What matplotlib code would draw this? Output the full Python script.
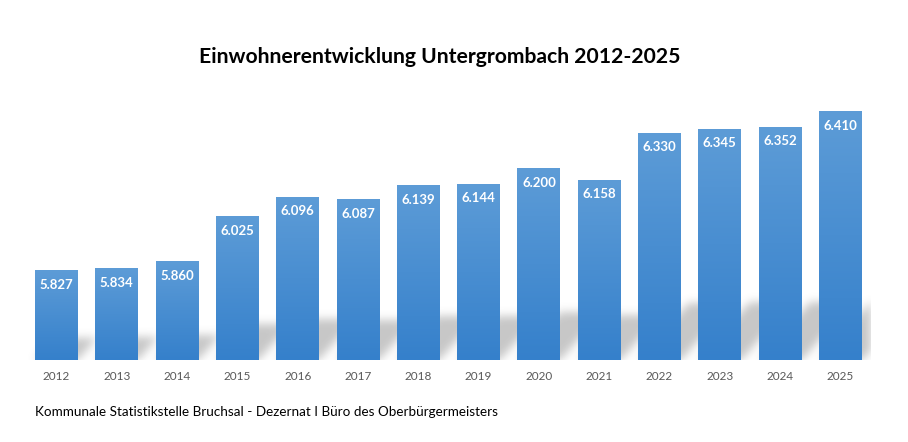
import matplotlib
matplotlib.use("Agg")
import matplotlib.pyplot as plt
import numpy as np

years = ["2012", "2013", "2014", "2015", "2016", "2017", "2018",
         "2019", "2020", "2021", "2022", "2023", "2024", "2025"]
einwohner = [5827, 5834, 5860, 6025, 6096, 6087, 6139,
             6144, 6200, 6158, 6330, 6345, 6352, 6410]
labels = ["5.827", "5.834", "5.860", "6.025", "6.096", "6.087", "6.139",
          "6.144", "6.200", "6.158", "6.330", "6.345", "6.352", "6.410"]

title = "Einwohnerentwicklung Untergrombach 2012-2025"
footer = "Kommunale Statistikstelle Bruchsal - Dezernat I Büro des Oberbürgermeisters"

plt.rcParams['font.family'] = ['Lato', 'DejaVu Sans']

W, H = 908, 442
fig = plt.figure(figsize=(W / 100, H / 100), dpi=100)
ax_left, ax_right = 26.4, 870.6
ax_top, ax_bot = 87, 360
ax = fig.add_axes([ax_left / W, 1 - ax_bot / H, (ax_right - ax_left) / W, (ax_bot - ax_top) / H])
ax.set_xlim(-0.5, len(years) - 0.5)
ymin, ymax = 5500, 6500
ax.set_ylim(ymin, ymax)
ax.patch.set_alpha(0)
for s in ax.spines.values():
    s.set_visible(False)
ax.set_yticks([])
ax.set_xticks(range(len(years)))
ax.set_xticklabels(years, fontsize=8.5, color="#595959")
ax.tick_params(axis="x", length=0, pad=8)

bar_w = 0.713

# soft shadow behind the bars, built on a pixel grid of the axes
nx, ny = int(ax_right - ax_left), int(ax_bot - ax_top)
px_per_x = nx / len(years)
px_per_y = ny / (ymax - ymin)
gx = np.arange(nx) + 0.5
gy = np.arange(ny) + 0.5  # from the base upwards
X, Y = np.meshgrid(gx, gy)
mask = np.zeros((ny, nx))
for i, v in enumerate(einwohner):
    h = (v - ymin) * px_per_y
    sh = 0.25 * h
    sk = 0.22 * h
    x0 = (i + 0.5 - bar_w / 2) * px_per_x
    x1 = (i + 0.5 + bar_w / 2) * px_per_x
    t = Y / sh
    inside = (Y <= sh) & (X >= x0 + sk * t) & (X <= x1 + sk * t)
    mask[inside] = 1.0
sig = 4.5
k = np.exp(-0.5 * (np.arange(-14, 15) / sig) ** 2)
k /= k.sum()
mask = np.apply_along_axis(lambda r: np.convolve(r, k, mode="same"), 1, mask)
mask = np.apply_along_axis(lambda c: np.convolve(c, k, mode="same"), 0, mask)
shadow = np.zeros((ny, nx, 4))
shadow[..., :3] = 0.35
shadow[..., 3] = mask * 0.34
ax.imshow(shadow[::-1], extent=(-0.5, len(years) - 0.5, ymin, ymin + ny / px_per_y),
          aspect="auto", zorder=1, interpolation="bilinear")

# bars with vertical gradient
top_c = np.array([0x5d, 0x9c, 0xd7]) / 255
bot_c = np.array([0x35, 0x80, 0xcb]) / 255
grad = np.linspace(0, 1, 256)[:, None]
grad_img = (top_c * (1 - grad) + bot_c * grad)[:, None, :]
bars = ax.bar(range(len(years)), [v - ymin for v in einwohner], bottom=ymin,
              width=bar_w, color="none", zorder=2)
for b, lab in zip(bars, labels):
    x0, y0 = b.get_x(), b.get_y()
    ax.imshow(grad_img, extent=(x0, x0 + b.get_width(), y0, y0 + b.get_height()),
              aspect="auto", zorder=2)
    ax.annotate(lab, (x0 + b.get_width() / 2, y0 + b.get_height()),
                xytext=(0, -14), textcoords="offset pixels", ha="center", va="center",
                color="white", fontsize=9.5, fontweight="bold", zorder=3)
ax.set_xlim(-0.5, len(years) - 0.5)
ax.set_ylim(ymin, ymax)

fig.text(440 / W, 1 - 57 / H, title, ha="center", va="center",
         fontsize=15.2, fontweight="bold", color="black")
fig.text(35 / W, 1 - 412 / H, footer, ha="left", va="center",
         fontsize=9.7, color="black")

fig.savefig("out.png", dpi=100)
